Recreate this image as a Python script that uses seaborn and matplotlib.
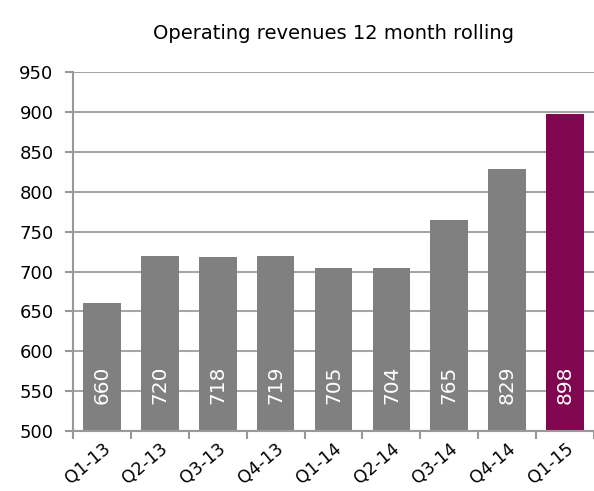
import matplotlib
matplotlib.use("Agg")
import matplotlib.pyplot as plt
import seaborn as sns
import numpy as np
import pandas as pd

quarters = ["Q1-13", "Q2-13", "Q3-13", "Q4-13", "Q1-14", "Q2-14", "Q3-14", "Q4-14", "Q1-15"]
revenues = [660, 720, 718, 719, 705, 704, 765, 829, 898]
bar_colors = ["#808080"] * 8 + ["#80074F"]

sns.set_style("white")
plt.rcParams["font.family"] = ["DejaVu Sans"]
plt.rcParams["text.color"] = "black"

df = pd.DataFrame({"quarter": quarters, "revenue": revenues})

fig = plt.figure(figsize=(5.94, 4.91), dpi=100)
ax = fig.add_axes([0.123, 0.122, 0.877, 0.731])
ax.set_axisbelow(True)
ax.yaxis.grid(True, color="#A6A6A6", linewidth=1.5)

sns.barplot(data=df, x="quarter", y="revenue", hue="quarter", palette=bar_colors,
            legend=False, width=0.65, saturation=1, linewidth=0, ax=ax)

ax.set_ylim(500, 950)
ax.set_yticks(np.arange(500, 951, 50))
ax.set_xlim(-0.5, len(quarters) - 0.5)
ax.set_xlabel("")
ax.set_ylabel("")
ax.set_title("Operating revenues 12 month rolling", fontsize=14, pad=24, color="black")

for i, v in enumerate(revenues):
    ax.text(i, 534, str(v), rotation=90, color="white", ha="center", va="bottom", fontsize=14.5)

for s in ["top", "right"]:
    ax.spines[s].set_visible(False)
for s in ["left", "bottom"]:
    ax.spines[s].set_color("#999999")
    ax.spines[s].set_linewidth(1.5)

ax.tick_params(axis="y", left=True, length=6, width=1.5, color="#999999",
               labelsize=13, labelcolor="black", pad=8)
ax.tick_params(axis="x", which="major", bottom=False, length=0, labelsize=12.5,
               labelcolor="black", pad=6)
ax.set_xticks(np.arange(-0.5, len(quarters), 1), minor=True)
ax.tick_params(axis="x", which="minor", bottom=True, length=6, width=1.5, color="#999999")
plt.setp(ax.get_xticklabels(), rotation=40, ha="right", rotation_mode="anchor")

fig.savefig("out.png", dpi=100)
